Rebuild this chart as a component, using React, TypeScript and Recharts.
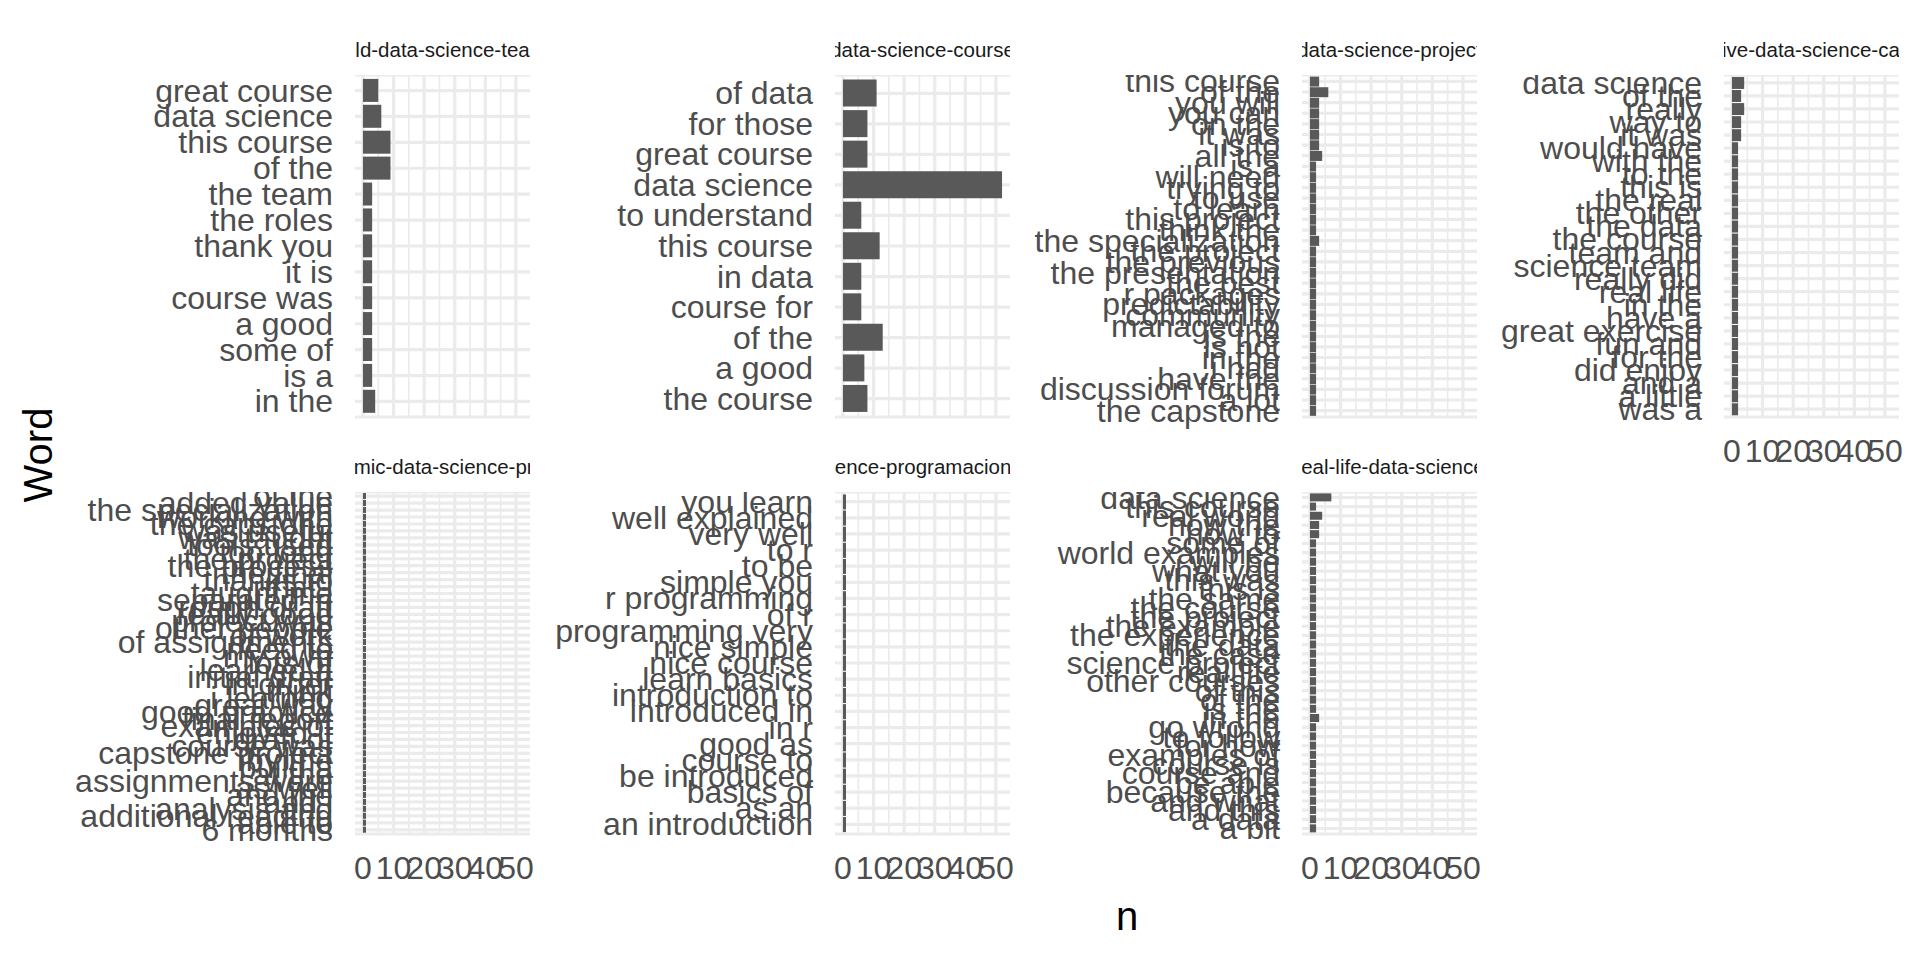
import React from "react";
import { BarChart, Bar, XAxis, YAxis, CartesianGrid } from "recharts";

// facet titles (facet_wrap order)
const panelTitles = [
  "build-data-science-teams",
  "data-science-course",
  "data-science-project",
  "executive-data-science-capstone",
  "genomic-data-science-project",
  "intro-data-science-programacion-estadistica-r",
  "real-life-data-science",
];

const teamWords = ["great course", "data science", "this course", "of the", "the team", "the roles", "thank you", "it is", "course was", "a good", "some of", "is a", "in the"];
const teamCounts = [5, 6, 9, 9, 3, 3, 3, 3, 3, 3, 3, 3, 4];

const courseWords = ["of data", "for those", "great course", "data science", "to understand", "this course", "in data", "course for", "of the", "a good", "the course"];
const courseCounts = [11, 8, 8, 52, 6, 12, 6, 6, 13, 7, 8];

const projectWords = [
  "this course", "of the", "you will", "you can", "on the", "it was", "is to", "all the",
  "is a", "will need", "trying to", "to use", "to learn", "this project", "think the", "the specialization",
  "the project", "the previous", "the presentation", "the best", "r packages", "predictability", "community", "managed to",
  "is the", "is not", "in the", "i had", "have the", "discussion forum", "a lot", "the capstone",
];
const projectCounts = [3, 6, 3, 3, 3, 3, 3, 4, 2, 2, 2, 2, 2, 2, 2, 3, 2, 2, 2, 2, 2, 2, 2, 2, 2, 2, 2, 2, 2, 2, 2, 2];

const capstoneWords = [
  "data science", "of the", "really", "way to", "it was", "would have", "with the", "to the", "this is",
  "the real", "the other", "the data", "the course", "team and", "science team", "really did", "real life",
  "in the", "have a", "great exercise", "fun and", "for the", "did enjoy", "and a", "a little", "was a",
];
const capstoneCounts = [4, 3, 4, 3, 3, 2, 2, 2, 2, 2, 2, 2, 2, 2, 2, 2, 2, 2, 2, 2, 2, 2, 2, 2, 2, 2];

const genomicWords = [
  "of the", "added value", "the specialization", "working with", "the capstone", "was useful", "was taught",
  "tools used", "too long", "the project", "the process", "the final", "thanks to", "that i", "taught me",
  "separated in", "rough draft", "really good", "project was", "other people", "of work", "of assignments",
  "need to", "my own", "lots of", "learned a", "initial draft", "in order", "i think", "i learned",
  "great way", "good practice", "final report", "examples of", "enjoyed it", "draft of", "course was",
  "capstone project", "by the", "build a", "at the", "assignments were", "as well", "and the", "and i",
  "analysis and", "additional reading", "able to", "6 months",
];
const genomicCounts = [1, 1, 1, 1, 1, 1, 1, 1, 1, 1, 1, 1, 1, 1, 1, 1, 1, 1, 1, 1, 1, 1, 1, 1, 1, 1, 1, 1, 1, 1, 1, 1, 1, 1, 1, 1, 1, 1, 1, 1, 1, 1, 1, 1, 1, 1, 1, 1, 1];

const introWords = [
  "you learn", "well explained", "very well", "to r", "to be", "simple you", "r programming", "of r",
  "programming very", "nice simple", "nice course", "learn basics", "introduction to", "introduced in",
  "in r", "good as", "course to", "be introduced", "basics of", "as an", "an introduction",
];
const introCounts = [1, 1, 1, 1, 1, 1, 1, 1, 1, 1, 1, 1, 1, 1, 1, 1, 1, 1, 1, 1, 1];

const realLifeWords = [
  "data science", "this course", "real world", "how the", "how to", "some of", "world examples", "will be",
  "what you", "this was", "this is", "the same", "the course", "the project", "the example", "the experience",
  "the data", "the case", "science project", "real life", "other courses", "of this", "of the", "is the",
  "in the", "go wrong", "to follow", "for how", "examples of", "course is", "course and", "be able",
  "because the", "and what", "and this", "a data", "a bit",
];
const realLifeCounts = [7, 2, 4, 3, 3, 2, 2, 2, 2, 2, 2, 2, 2, 2, 2, 2, 2, 2, 2, 2, 2, 2, 2, 2, 3, 2, 2, 2, 2, 2, 2, 2, 2, 2, 2, 2, 2];

const xTicks = [0, 10, 20, 30, 40, 50];
const xMinor = [5, 15, 25, 35, 45];

const FONT = "'Liberation Sans', Arial, sans-serif";
const GRID = "#EBEBEB";
const PLOT_W = 175;
const PLOT_H = 342;
const Y_W = 330;
const X_H = 60;
const R_PAD = 30;
const colLeft = [355, 835, 1302, 1724];
const rowTop = [75, 492];

const panels = [
  { title: panelTitles[0], words: teamWords, counts: teamCounts, col: 0, row: 0, showX: false },
  { title: panelTitles[1], words: courseWords, counts: courseCounts, col: 1, row: 0, showX: false },
  { title: panelTitles[2], words: projectWords, counts: projectCounts, col: 2, row: 0, showX: false },
  { title: panelTitles[3], words: capstoneWords, counts: capstoneCounts, col: 3, row: 0, showX: true },
  { title: panelTitles[4], words: genomicWords, counts: genomicCounts, col: 0, row: 1, showX: true },
  { title: panelTitles[5], words: introWords, counts: introCounts, col: 1, row: 1, showX: true },
  { title: panelTitles[6], words: realLifeWords, counts: realLifeCounts, col: 2, row: 1, showX: true },
];

const YTick = (props: any) => {
  const { x, y, payload } = props;
  return (
    <text x={x} y={y} textAnchor="end" dominantBaseline="central" fontSize={32} fill="#4D4D4D" fontFamily={FONT}>
      {payload.value}
    </text>
  );
};

const makeXTick = (show: boolean) => (props: any) => {
  const { x, y, payload } = props;
  if (!show) return <g />;
  return (
    <text x={x} y={y + 34} textAnchor="middle" dominantBaseline="central" fontSize={32} fill="#4D4D4D" fontFamily={FONT}>
      {payload.value}
    </text>
  );
};

const FacetPanel = ({ title, words, counts, col, row, showX }: any) => {
  const data = words.map((w: string, i: number) => ({ word: w, n: counts[i] }));
  // ggplot discrete expansion: 0.6 of a step at each end
  const pad = (0.1 * PLOT_H) / (words.length + 0.2);
  const left = colLeft[col];
  const top = rowTop[row];
  return (
    <>
      <div
        style={{
          position: "absolute",
          left,
          top: top - 40,
          width: PLOT_W,
          height: 30,
          overflow: "hidden",
          display: "flex",
          justifyContent: "center",
          alignItems: "center",
          whiteSpace: "nowrap",
          fontSize: 20.5,
          color: "#1A1A1A",
        }}
      >
        <span style={{ flexShrink: 0 }}>{title}</span>
      </div>
      <div style={{ position: "absolute", left: left - Y_W, top }}>
        <BarChart
          width={Y_W + PLOT_W + R_PAD}
          height={PLOT_H + X_H}
          data={data}
          layout="vertical"
          margin={{ top: 0, right: R_PAD, bottom: 0, left: 0 }}
          barCategoryGap="5%"
        >
          <CartesianGrid stroke={GRID} strokeWidth={3.2} verticalValues={xTicks} />
          <CartesianGrid stroke={GRID} strokeWidth={1.6} horizontal={false} verticalValues={xMinor} />
          <XAxis
            type="number"
            domain={[-2.6, 54.6]}
            ticks={xTicks}
            allowDataOverflow
            height={X_H}
            axisLine={false}
            tickLine={false}
            tickSize={0}
            tickMargin={0}
            interval={0}
            tick={makeXTick(showX)}
          />
          <YAxis
            type="category"
            dataKey="word"
            width={Y_W}
            axisLine={false}
            tickLine={false}
            tickSize={0}
            tickMargin={22}
            interval={0}
            padding={{ top: pad, bottom: pad }}
            tick={YTick}
          />
          <Bar dataKey="n" fill="#595959" isAnimationActive={false} />
        </BarChart>
      </div>
    </>
  );
};

export default function App() {
  return (
    <div
      style={{
        position: "absolute",
        left: 0,
        top: 0,
        width: 1920,
        height: 960,
        background: "#FFFFFF",
        fontFamily: FONT,
        overflow: "hidden",
      }}
    >
      {panels.map((p, i) => (
        <FacetPanel key={i} {...p} />
      ))}
      <div
        style={{
          position: "absolute",
          left: 38,
          top: 455,
          transform: "translate(-50%, -50%) rotate(-90deg)",
          fontSize: 40,
          color: "#000000",
          whiteSpace: "nowrap",
        }}
      >
        Word
      </div>
      <div
        style={{
          position: "absolute",
          left: 1127,
          top: 916,
          transform: "translate(-50%, -50%)",
          fontSize: 40,
          color: "#000000",
        }}
      >
        n
      </div>
    </div>
  );
}
